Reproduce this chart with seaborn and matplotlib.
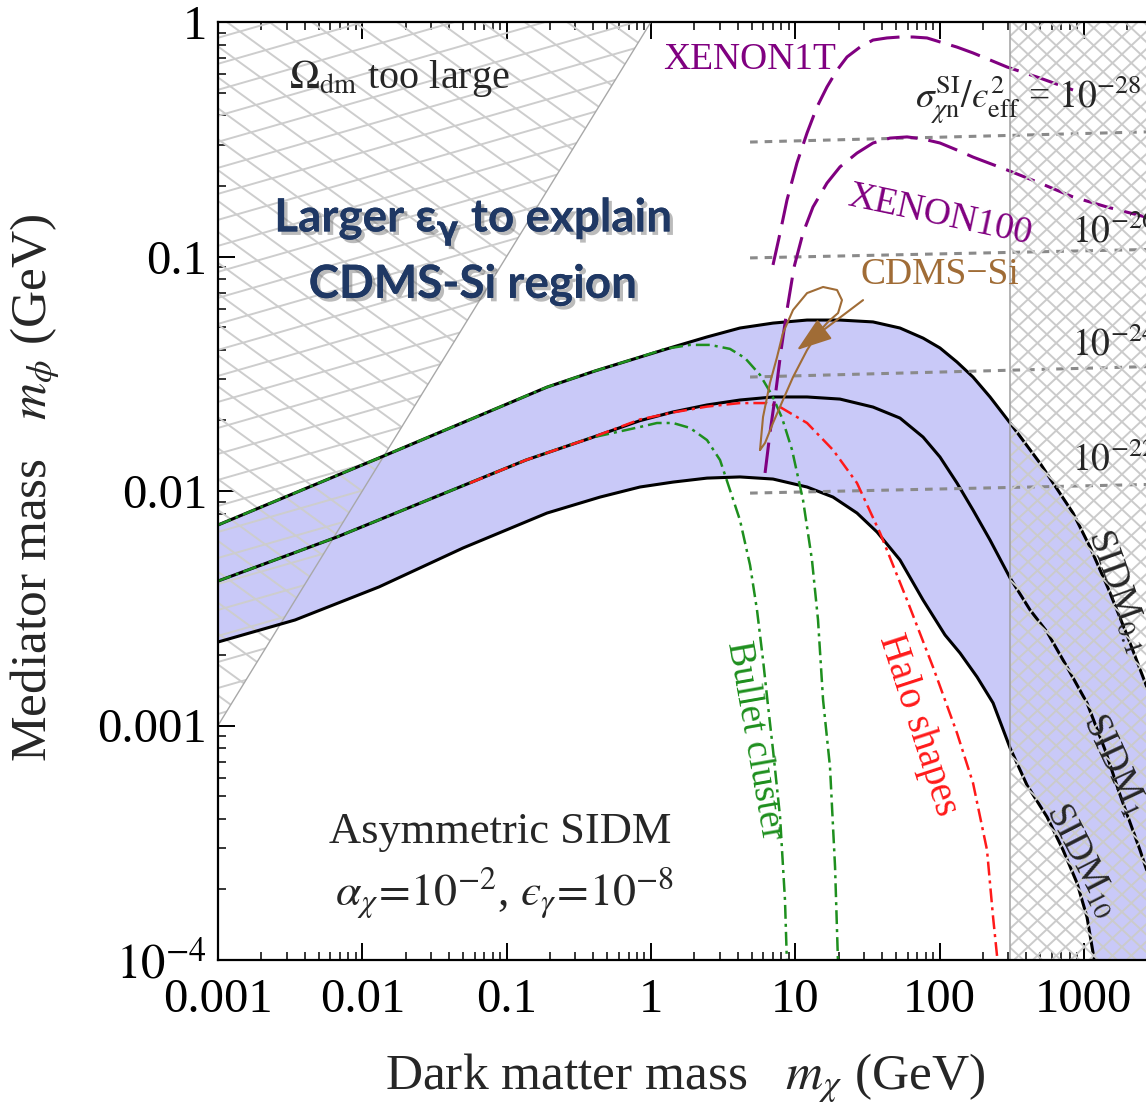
import numpy as np
import matplotlib
matplotlib.use("Agg")
import matplotlib.pyplot as plt
import matplotlib.patheffects as pe
from matplotlib.collections import LineCollection
from matplotlib.patches import Polygon
from matplotlib.ticker import LogLocator, NullFormatter
import seaborn as sns

# ---------------------------------------------------------------------------
# Curves in log10 units: log10(m_chi / GeV), log10(m_phi / GeV)
# ---------------------------------------------------------------------------
sidm01_lx = [-3.000, -1.884, -0.720, -0.387, -0.076, 0.153, 0.389, 0.617, 0.846, 1.082,
             1.310, 1.539, 1.726, 1.886, 2.003, 2.121, 2.232, 2.350, 2.489, 2.696,
             2.925, 3.043, 3.168, 3.299, 3.431, 3.597, 4.117]
sidm01_ly = [-2.145, -1.859, -1.557, -1.488, -1.429, -1.386, -1.343, -1.305, -1.284, -1.271,
             -1.271, -1.279, -1.305, -1.348, -1.390, -1.450, -1.514, -1.599, -1.710, -1.881,
             -2.094, -2.239, -2.414, -2.614, -2.827, -3.104, -4.021]

sidm1_lx = [-3.000, -2.175, -0.866, -0.422, -0.076, 0.153, 0.389, 0.617, 0.846, 1.082,
            1.310, 1.539, 1.726, 1.886, 2.003, 2.121, 2.232, 2.350, 2.489, 2.627,
            2.745, 2.884, 3.022, 3.147, 3.251, 3.389, 3.528, 3.632]
sidm1_ly = [-2.384, -2.196, -1.868, -1.775, -1.700, -1.663, -1.633, -1.612, -1.599, -1.599,
            -1.608, -1.642, -1.689, -1.770, -1.855, -1.966, -2.081, -2.209, -2.371, -2.507,
            -2.601, -2.751, -2.904, -3.104, -3.296, -3.531, -3.787, -4.021]

sidm10_lx = [-3.000, -2.466, -1.884, -1.302, -0.720, -0.353, -0.076, 0.153, 0.389, 0.617,
             0.846, 1.082, 1.262, 1.428, 1.567, 1.726, 1.886, 2.038, 2.142, 2.260,
             2.371, 2.489, 2.606, 2.745, 2.856, 2.953, 3.022, 3.078]
sidm10_ly = [-2.644, -2.550, -2.409, -2.243, -2.094, -2.026, -1.983, -1.962, -1.945, -1.940,
             -1.949, -1.983, -2.026, -2.094, -2.175, -2.294, -2.465, -2.614, -2.691, -2.793,
             -2.904, -3.096, -3.254, -3.390, -3.531, -3.672, -3.817, -4.021]

bullet_a_lx = [-3.000, -1.884, -0.720, -0.387, -0.076, 0.098, 0.271, 0.410, 0.548, 0.652,
               0.756, 0.839, 0.909, 0.978, 1.054, 1.116, 1.158, 1.193, 1.241, 1.276, 1.297]
bullet_a_ly = [-2.145, -1.859, -1.557, -1.488, -1.429, -1.394, -1.377, -1.377, -1.394, -1.433,
               -1.505, -1.591, -1.689, -1.825, -2.038, -2.294, -2.550, -2.891, -3.177, -3.603,
               -4.021]

bullet_b_lx = [-3.000, -2.175, -0.866, -0.422, -0.076, 0.042, 0.153, 0.271, 0.389, 0.479,
               0.548, 0.617, 0.687, 0.735, 0.777, 0.811, 0.846, 0.895, 0.929, 0.943]
bullet_b_ly = [-2.384, -2.196, -1.868, -1.774, -1.727, -1.710, -1.710, -1.731, -1.783, -1.868,
               -1.996, -2.124, -2.316, -2.507, -2.721, -2.913, -3.104, -3.390, -3.744, -4.021]

halo_lx = [-1.254, -0.866, -0.422, -0.076, 0.153, 0.389, 0.617, 0.805, 0.895, 1.082,
           1.262, 1.428, 1.588, 1.775, 1.955, 2.121, 2.232, 2.329, 2.371, 2.405]
halo_ly = [-1.966, -1.868, -1.775, -1.695, -1.665, -1.640, -1.625, -1.625, -1.642, -1.710,
           -1.825, -1.966, -2.179, -2.465, -2.751, -3.032, -3.245, -3.531, -3.817, -4.021]

xenon1t_lx = [0.846, 0.895, 0.943, 1.012, 1.082, 1.151, 1.220, 1.290, 1.359, 1.449, 1.539,
              1.636, 1.726, 1.816, 1.913, 2.003, 2.121, 2.232, 2.350, 2.468, 2.696, 2.925]
xenon1t_ly = [-1.036, -0.900, -0.759, -0.601, -0.473, -0.362, -0.277, -0.205, -0.149, -0.107,
              -0.077, -0.068, -0.064, -0.064, -0.068, -0.085, -0.107, -0.132, -0.162, -0.192,
              -0.239, -0.290]

xenon100_lx = [0.791, 0.825, 0.867, 0.902, 0.943, 0.992, 1.054, 1.123, 1.220, 1.310, 1.428,
               1.539, 1.657, 1.775, 1.886, 2.003, 2.121, 2.232, 2.468, 2.696, 2.925, 3.161,
               3.431, 3.597]
xenon100_ly = [-1.923, -1.753, -1.569, -1.399, -1.228, -1.045, -0.900, -0.789, -0.687, -0.618,
               -0.559, -0.516, -0.495, -0.490, -0.499, -0.516, -0.546, -0.576, -0.631, -0.687,
               -0.746, -0.789, -0.832, -0.866]

cdms_lx = [0.756, 0.777, 0.825, 0.874, 0.915, 0.985, 1.082, 1.193, 1.290, 1.324, 1.297,
           1.227, 1.158, 1.082, 0.985, 0.915, 0.846, 0.791, 0.756]
cdms_ly = [-1.825, -1.684, -1.539, -1.429, -1.326, -1.228, -1.156, -1.130, -1.143, -1.186,
           -1.241, -1.279, -1.326, -1.399, -1.514, -1.612, -1.710, -1.795, -1.825]

# contours of sigma_SI / eps_eff^2 = 1e-28, 1e-26, 1e-24, 1e-22 cm^2
sigma_exponents = [-28, -26, -24, -22]
sigma_lx = [0.687, 3.600]
sigma_ly = [[-0.512, -0.466], [-1.006, -0.968], [-1.514, -1.467], [-2.009, -1.970]]

# relic abundance bound m_phi = m_chi, and the heavy-DM cut
omega_line_x = [1e-3, 1.0]
heavy_cut_mchi = 310.0

xtick_values = [1e-3, 1e-2, 1e-1, 1, 10, 100, 1000]
xtick_labels = ["0.001", "0.01", "0.1", "1", "10", "100", "1000"]
ytick_values = [1e-4, 1e-3, 1e-2, 1e-1, 1]
ytick_labels = [r"$10^{-4}$", "0.001", "0.01", "0.1", "1"]

# ---------------------------------------------------------------------------
sns.set_theme(style="ticks")
plt.rcParams["font.family"] = ["Liberation Serif", "DejaVu Serif"]
plt.rcParams["mathtext.fontset"] = "stix"
plt.rcParams["lines.scale_dashes"] = False

FIG_W, FIG_H, DPI = 1146, 1109, 100
fig = plt.figure(figsize=(FIG_W / DPI, FIG_H / DPI), dpi=DPI)
ax = fig.add_axes([218 / FIG_W, 1 - 960 / FIG_H, (1200 - 218) / FIG_W, (960 - 22) / FIG_H])
ax.set_xscale("log")
ax.set_yscale("log")
XLIM = (1e-3, 10 ** 3.805)
YLIM = (1e-4, 1.0)

BLUE = "#c9c9f8"
GREEN = "#1e8f1e"
RED = "#ff1a1a"
PURPLE = "#800080"
BROWN = "#a06c36"
NAVY = "#1f3864"
LUNATE_EPS = "\u03f5"


def p10(v):
    return 10.0 ** np.asarray(v, dtype=float)


def curve(lx, ly, color, lw, dashes=None, z=3):
    sns.lineplot(x=p10(lx), y=p10(ly), sort=False, estimator=None, color=color,
                 linewidth=lw, ax=ax, zorder=z, legend=False)
    line = ax.lines[-1]
    if dashes is not None:
        line.set_dashes(dashes)
    line.set_dash_capstyle("butt")
    line.set_solid_joinstyle("round")
    return line


def hatch_lines(clip_patch, angles, spacing, color, lw, z):
    bb = ax.get_position()
    W = bb.width * FIG_W
    H = bb.height * FIG_H
    diag = np.hypot(W, H)
    c = np.array([W / 2, H / 2])
    segs = []
    for a in np.deg2rad(angles):
        d = np.array([np.cos(a), np.sin(a)])
        n = np.array([-np.sin(a), np.cos(a)])
        for off in np.arange(-diag / 2, diag / 2 + spacing, spacing):
            p0 = c + n * off - d * diag
            p1 = c + n * off + d * diag
            segs.append([(p0[0] / W, p0[1] / H), (p1[0] / W, p1[1] / H)])
    lc = LineCollection(segs, colors=color, linewidths=lw, transform=ax.transAxes,
                        zorder=z)
    ax.add_collection(lc, autolim=False)
    lc.set_clip_path(clip_patch)


# SIDM band
band_x = np.concatenate([p10(sidm01_lx), p10(sidm10_lx)[::-1]])
band_y = np.concatenate([p10(sidm01_ly), p10(sidm10_ly)[::-1]])
ax.fill(band_x, band_y, color=BLUE, lw=0, zorder=1)

# Omega_dm too large region (m_phi > m_chi)
omega_poly = Polygon([(omega_line_x[0], omega_line_x[0]), (omega_line_x[1], omega_line_x[1]),
                      (omega_line_x[0], omega_line_x[1])], closed=True,
                     facecolor="none", edgecolor="none", transform=ax.transData)
ax.add_patch(omega_poly)
hatch_lines(omega_poly, [16, -36], 25, "#cdcdcd", 1.4, 2)
ax.plot(omega_line_x, omega_line_x, color="#a8a8a8", lw=1.0, zorder=2)

# SIDM boundaries
curve(sidm01_lx, sidm01_ly, "black", 2.2)
curve(sidm1_lx, sidm1_ly, "black", 2.2)
curve(sidm10_lx, sidm10_ly, "black", 2.2)

# Bullet cluster and halo shape constraints
dashdot = (10, 3.6, 2.2, 3.6)
curve(bullet_a_lx, bullet_a_ly, GREEN, 1.8, dashdot, z=4)
curve(bullet_b_lx, bullet_b_ly, GREEN, 1.8, dashdot, z=4)
curve(halo_lx, halo_ly, RED, 1.8, dashdot, z=4)

# direct detection
for ex, (y0, y1) in zip(sigma_exponents, sigma_ly):
    curve(sigma_lx, [y0, y1], "#8a8a8a", 2.2, (5.5, 5.0), z=3)
curve(xenon1t_lx, xenon1t_ly, PURPLE, 2.2, (22, 8), z=4)
curve(xenon100_lx, xenon100_ly, PURPLE, 2.2, (22, 8), z=4)
curve(cdms_lx, cdms_ly, BROWN, 1.5, z=4)
ax.annotate("", xy=(p10(1.012), p10(-1.399)), xytext=(p10(1.47), p10(-1.186)),
            arrowprops=dict(arrowstyle="-|>,head_length=1.1,head_width=0.38",
                            color=BROWN, lw=1.5, mutation_scale=20, shrinkA=0, shrinkB=0),
            zorder=5)

# heavy dark matter region
heavy = ax.axvspan(heavy_cut_mchi, 1e6, facecolor="none", edgecolor="none")
hatch_lines(heavy, [43, -43], 12.8, "#cbcbcb", 1.4, 6)
ax.axvline(heavy_cut_mchi, color="#a0a0a0", lw=1.1, zorder=6)

# ---------------------------------------------------------------------------
# Axes styling
ax.set_xlim(*XLIM)
ax.set_ylim(*YLIM)
ax.set_xticks(xtick_values, labels=xtick_labels)
ax.set_yticks(ytick_values, labels=ytick_labels)
ax.xaxis.set_minor_locator(LogLocator(base=10, subs=np.arange(2, 10), numticks=30))
ax.yaxis.set_minor_locator(LogLocator(base=10, subs=np.arange(2, 10), numticks=30))
ax.xaxis.set_minor_formatter(NullFormatter())
ax.yaxis.set_minor_formatter(NullFormatter())
ax.tick_params(which="both", direction="in", top=True, right=True, colors="black")
ax.tick_params(which="major", length=12, width=1.4, labelsize=35, pad=8)
ax.tick_params(which="minor", length=6, width=1.1)
ax.tick_params(axis="x", which="major", pad=13)
for sp in ax.spines.values():
    sp.set_linewidth(1.6)
    sp.set_color("black")
    sp.set_zorder(10)
ax.set_xlabel("")
ax.set_ylabel("")

fig.text(685 / FIG_W, 1 - 1078 / FIG_H, r"Dark matter mass   $m_\chi$ (GeV)",
         ha="center", va="center", fontsize=37)
fig.text(35 / FIG_W, 1 - 488 / FIG_H, r"Mediator mass   $m_\phi$ (GeV)",
         ha="center", va="center", rotation=90, fontsize=37)


def lab(lx, ly, s, **kw):
    kw.setdefault("ha", "center")
    kw.setdefault("va", "center")
    return ax.text(p10(lx), p10(ly), s, zorder=8, **kw)


lab(-1.739, -0.239, r"$\Omega_{\rm dm}$ too large", fontsize=29)
lab(0.687, -0.162, "XENON1T", fontsize=27, color=PURPLE)
lab(2.003, -0.823, "XENON100", fontsize=27, color=PURPLE, rotation=-12)
lab(2.003, -1.079, "CDMS\u2212Si", fontsize=27, color=BROWN)
lab(1.830, -0.333, "$\\sigma^{\\rm SI}_{\\chi{\\rm n}}/" + LUNATE_EPS
    + "^{2}_{\\rm eff}$ = $10^{%d}$" % sigma_exponents[0], fontsize=27, ha="left")
for ex, ly in zip(sigma_exponents[1:], [-0.896, -1.377, -1.868]):
    lab(2.92, ly, r"$10^{%d}$" % ex, fontsize=27, ha="left")
lab(0.721, -3.062, "Bullet cluster", fontsize=27, color=GREEN, rotation=-80)
lab(1.851, -2.998, "Halo shapes", fontsize=28, color=RED, rotation=-72)
lab(3.237, -2.422, r"SIDM$_{0.1}$", fontsize=27, rotation=-70.5)
lab(3.202, -3.168, r"SIDM$_{1}$", fontsize=27, rotation=-65)
lab(2.988, -3.574, r"SIDM$_{10}$", fontsize=27, rotation=-63)
lab(-1.046, -3.454, "Asymmetric SIDM", fontsize=32)
lab(-1.011, -3.714, "$\\alpha_\\chi\\!=\\!10^{-2}$, $" + LUNATE_EPS
    + "_\\gamma\\!=\\!10^{-8}$", fontsize=33)

shadow = [pe.withSimplePatchShadow(offset=(2.5, -2.5), shadow_rgbFace="#6a6a6a", alpha=0.45),
          pe.Normal()]
for ly, s in [(-0.853, "Larger \u03b5$_{\\mathbf{\\gamma}}$ to explain"),
              (-1.122, "CDMS-Si region")]:
    lab(-1.233, ly, s, fontsize=33, fontweight="bold", color=NAVY,
        family=["Lato", "DejaVu Sans"], math_fontfamily="dejavusans", path_effects=shadow)

fig.savefig("out.png", dpi=DPI, facecolor="white")
